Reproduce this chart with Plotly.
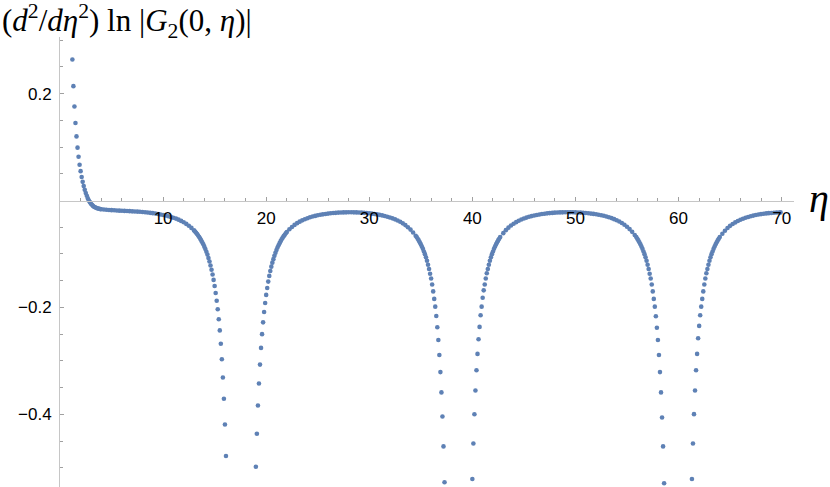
import plotly.graph_objects as go

# ---- data (eta, value) ----
eta1 = [1.2, 1.3, 1.4, 1.5, 1.6, 1.7, 1.8, 1.9, 2.0, 2.1, 2.2, 2.3, 2.4, 2.5, 2.6, 2.7, 2.8, 2.9, 3.0,
        3.1, 3.2, 3.3, 3.4, 3.5, 3.6, 3.7, 3.8, 3.9, 4.0]
val1 = [0.264, 0.214, 0.176, 0.145, 0.120, 0.099, 0.082, 0.067, 0.055, 0.044, 0.035, 0.027, 0.020,
        0.014, 0.009, 0.004, 0.000, -0.003, -0.006, -0.008, -0.010, -0.0115, -0.0125, -0.0135,
        -0.0143, -0.0150, -0.0155, -0.0160, -0.0164]

eta2 = [4.25, 4.5, 4.75, 5.0, 5.25, 5.5, 5.75, 6.0, 6.25, 6.5, 6.75, 7.0, 7.25, 7.5, 7.75, 8.0, 8.25,
        8.5, 8.75, 9.0, 9.25, 9.5, 9.75, 10.0, 10.25, 10.5, 10.75, 11.0, 11.25, 11.5, 11.75, 12.0,
        12.25, 12.5, 12.75]
val2 = [-0.0168, -0.0172, -0.0176, -0.0180, -0.0183, -0.0186, -0.0189, -0.0192, -0.0194, -0.0197,
        -0.0199, -0.0202, -0.0204, -0.0207, -0.0210, -0.0215, -0.0219, -0.0224, -0.0230, -0.0236,
        -0.0243, -0.0251, -0.0260, -0.0270, -0.0281, -0.0293, -0.0306, -0.0321, -0.0338, -0.0358,
        -0.0381, -0.0407, -0.0437, -0.0471, -0.0512]

eta3 = [13.0, 13.1, 13.2, 13.3, 13.4, 13.5, 13.6, 13.7, 13.8, 13.9, 14.0, 14.1, 14.2, 14.3, 14.4,
        14.5, 14.6, 14.7, 14.8, 14.9, 15.0, 15.1, 15.2, 15.3, 15.4, 15.5, 15.6, 15.7, 15.8, 15.9,
        16.0, 16.1]
val3 = [-0.0559, -0.0581, -0.0603, -0.0628, -0.0654, -0.0683, -0.0713, -0.0746, -0.0782, -0.0820,
        -0.0863, -0.0907, -0.0958, -0.1012, -0.1075, -0.1142, -0.1215, -0.1295, -0.1385, -0.1485,
        -0.160, -0.173, -0.1875, -0.2035, -0.222, -0.243, -0.268, -0.297, -0.331, -0.371, -0.419,
        -0.478]

eta4 = [19.0, 19.1, 19.2, 19.3, 19.4, 19.5, 19.6, 19.7, 19.8, 19.9, 20.0, 20.1, 20.2, 20.3, 20.4,
        20.5, 20.6, 20.7, 20.8, 20.9, 21.0, 21.1, 21.2, 21.3, 21.4, 21.5, 21.6, 21.7, 21.8, 21.9,
        22.0]
val4 = [-0.498, -0.4364, -0.3835, -0.3424, -0.307, -0.2757, -0.250, -0.2279, -0.2085, -0.1916,
        -0.1766, -0.1636, -0.1517, -0.141, -0.1318, -0.1237, -0.1162, -0.1097, -0.1035, -0.0979,
        -0.0927, -0.0880, -0.0836, -0.0797, -0.0760, -0.0726, -0.0694, -0.0666, -0.0639, -0.0614,
        -0.0591]

eta5 = [22.25, 22.5, 22.75, 23.0, 23.25, 23.5, 23.75, 24.0, 24.25, 24.5, 24.75, 25.0, 25.25, 25.5,
        25.75, 26.0, 26.25, 26.5, 26.75, 27.0, 27.25, 27.5, 27.75, 28.0]
val5 = [-0.0538, -0.0494, -0.0456, -0.0423, -0.0395, -0.0371, -0.0349, -0.0331, -0.0314, -0.0300,
        -0.0287, -0.0276, -0.0267, -0.0258, -0.0251, -0.0244, -0.0238, -0.0234, -0.0230, -0.0226,
        -0.0224, -0.0222, -0.0221, -0.0220]

eta6 = [28.25, 28.5, 28.75, 29.0, 29.25, 29.5, 29.75, 30.0, 30.25, 30.5, 30.75, 31.0, 31.25, 31.5,
        31.75, 32.0, 32.25, 32.5, 32.75, 33.0, 33.25, 33.5, 33.75, 34.0, 34.25, 34.5]
val6 = [-0.0220, -0.0221, -0.0222, -0.0224, -0.0227, -0.0230, -0.0234, -0.0239, -0.0245, -0.0251,
        -0.0259, -0.0268, -0.0278, -0.0289, -0.0302, -0.0316, -0.0333, -0.0352, -0.0373, -0.0398,
        -0.0427, -0.0460, -0.0499, -0.0544, -0.0597, -0.0660]

eta7 = [34.6, 34.7, 34.8, 34.9, 35.0, 35.1, 35.2, 35.3, 35.4, 35.5, 35.6, 35.7, 35.8, 35.9, 36.0,
        36.1, 36.2, 36.3, 36.4, 36.5, 36.6, 36.7, 36.8, 36.9, 37.0, 37.1, 37.2, 37.3]
val7 = [-0.0684, -0.0714, -0.0746, -0.0781, -0.0818, -0.0859, -0.0904, -0.0954, -0.1003, -0.1063,
        -0.1128, -0.1201, -0.128, -0.137, -0.146, -0.157, -0.170, -0.184, -0.1985, -0.216, -0.237,
        -0.261, -0.289, -0.321, -0.359, -0.404, -0.460, -0.527]

eta8 = [40.0, 40.1, 40.2, 40.3, 40.4, 40.5, 40.6, 40.7, 40.8, 40.9, 41.0, 41.1, 41.2, 41.3, 41.4,
        41.5, 41.6, 41.7, 41.8, 41.9, 42.0, 42.1, 42.2, 42.3, 42.4, 42.5, 42.6, 42.7]
val8 = [-0.521, -0.4545, -0.400, -0.3555, -0.3175, -0.287, -0.2595, -0.2364, -0.2146, -0.1985,
        -0.182, -0.168, -0.157, -0.146, -0.136, -0.128, -0.1201, -0.1128, -0.1063, -0.1003, -0.0954,
        -0.0904, -0.0859, -0.0818, -0.0781, -0.0746, -0.0714, -0.0684]

eta9 = [43.0, 43.25, 43.5, 43.75, 44.0, 44.25, 44.5, 44.75, 45.0, 45.25, 45.5, 45.75, 46.0, 46.25,
        46.5, 46.75, 47.0, 47.25, 47.5, 47.75, 48.0, 48.25, 48.5, 48.75, 49.0, 49.25, 49.5, 49.75,
        50.0, 50.25, 50.5, 50.75, 51.0, 51.25, 51.5, 51.75, 52.0, 52.25, 52.5, 52.75, 53.0, 53.25,
        53.5, 53.75, 54.0, 54.25, 54.5, 54.75, 55.0, 55.25, 55.5, 55.75]
val9 = [-0.0610, -0.0554, -0.0507, -0.0467, -0.0433, -0.0404, -0.0378, -0.0356, -0.0337, -0.0319,
        -0.0304, -0.0291, -0.0280, -0.0270, -0.0261, -0.0253, -0.0246, -0.0240, -0.0235, -0.0231,
        -0.0227, -0.0225, -0.0222, -0.0221, -0.0220, -0.0220, -0.0220, -0.0220, -0.0222, -0.0224,
        -0.0226, -0.0229, -0.0233, -0.0238, -0.0244, -0.0250, -0.0257, -0.0266, -0.0275, -0.0286,
        -0.0299, -0.0313, -0.0329, -0.0348, -0.0369, -0.0393, -0.0421, -0.0453, -0.0490, -0.0534,
        -0.0586, -0.0647]

eta10 = [55.9, 56.0, 56.1, 56.2, 56.3, 56.4, 56.5, 56.6, 56.7, 56.8, 56.9, 57.0, 57.1, 57.2, 57.3,
         57.4, 57.5, 57.6, 57.7, 57.8, 57.9, 58.0, 58.1, 58.2, 58.3, 58.4, 58.5, 58.6]
val10 = [-0.0684, -0.0714, -0.0746, -0.0781, -0.0818, -0.0859, -0.0904, -0.0954, -0.1003, -0.1063,
         -0.1128, -0.1201, -0.128, -0.137, -0.146, -0.157, -0.170, -0.184, -0.1985, -0.2165, -0.238,
         -0.261, -0.289, -0.321, -0.359, -0.406, -0.460, -0.529]

eta11 = [61.3, 61.4, 61.5, 61.6, 61.7, 61.8, 61.9, 62.0, 62.1, 62.2, 62.3, 62.4, 62.5, 62.6, 62.7,
         62.8, 62.9, 63.0, 63.1, 63.2, 63.3, 63.4, 63.5, 63.6, 63.7, 63.8, 63.9, 64.0]
val11 = [-0.521, -0.4545, -0.3997, -0.3555, -0.3175, -0.287, -0.2576, -0.2346, -0.2146, -0.1985,
         -0.184, -0.170, -0.157, -0.146, -0.136, -0.128, -0.1201, -0.1128, -0.1063, -0.1003, -0.0954,
         -0.0904, -0.0859, -0.0818, -0.0781, -0.0746, -0.0714, -0.0684]

eta12 = [64.25, 64.5, 64.75, 65.0, 65.25, 65.5, 65.75, 66.0, 66.25, 66.5, 66.75, 67.0, 67.25, 67.5,
         67.75, 68.0, 68.25, 68.5, 68.75, 69.0, 69.25, 69.5, 69.75, 69.9]
val12 = [-0.0621, -0.0564, -0.0515, -0.0474, -0.0439, -0.0409, -0.0382, -0.0360, -0.0340, -0.0322,
         -0.0307, -0.0293, -0.0282, -0.0271, -0.0262, -0.0254, -0.0247, -0.0241, -0.0236, -0.0232,
         -0.0228, -0.0225, -0.0223, -0.0222]

x_major = [10, 20, 30, 40, 50, 60, 70]
x_major_text = ["10", "20", "30", "40", "50", "60", "70"]
y_major = [-0.4, -0.2, 0.2]
y_major_text = ["\u22120.4", "\u22120.2", "0.2"]

eta = eta1 + eta2 + eta3 + eta4 + eta5 + eta6 + eta7 + eta8 + eta9 + eta10 + eta11 + eta12
vals = val1 + val2 + val3 + val4 + val5 + val6 + val7 + val8 + val9 + val10 + val11 + val12

X_RANGE = [0, 71.2]
Y_RANGE = [-0.536, 0.306]
x_minor = [v for v in range(2, 72, 2) if v % 10 != 0]
y_minor = [round(-0.5 + 0.05 * i, 2) for i in range(17)]
y_minor = [v for v in y_minor if v not in (-0.4, -0.2, 0.0, 0.2)]

AX = "#C6C6C6"
TK = "#A0A0A0"
DOT = "#5E81B5"

fig = go.Figure()
fig.add_trace(go.Scatter(
    x=eta, y=vals, mode="markers",
    marker=dict(size=4.6, color=DOT, line=dict(width=0)),
    hoverinfo="skip", cliponaxis=True,
))

xpos = (0 - Y_RANGE[0]) / (Y_RANGE[1] - Y_RANGE[0])

fig.update_layout(
    width=830, height=487,
    margin=dict(l=60, r=36, t=37, b=0, autoexpand=False),
    paper_bgcolor="white", plot_bgcolor="white",
    showlegend=False,
    xaxis=dict(
        range=X_RANGE, anchor="free", position=xpos, automargin=False,
        showline=True, linecolor=AX, linewidth=1,
        showgrid=False, zeroline=False,
        tickmode="array", tickvals=x_major, ticktext=x_major_text,
        ticks="inside", ticklen=4, tickwidth=1, tickcolor=TK,
        ticklabelstandoff=2,
        tickfont=dict(family="Liberation Sans, Arial, sans-serif", size=17, color="black"),
        minor=dict(tickvals=x_minor, ticks="inside", ticklen=2.5, tickwidth=1,
                   tickcolor=TK, showgrid=False),
    ),
    yaxis=dict(
        range=Y_RANGE, automargin=False,
        showline=True, linecolor=AX, linewidth=1,
        showgrid=False, zeroline=False,
        tickmode="array", tickvals=y_major, ticktext=y_major_text,
        ticks="inside", ticklen=4, tickwidth=1, tickcolor=TK,
        ticklabelstandoff=4,
        tickfont=dict(family="Liberation Sans, Arial, sans-serif", size=17, color="black"),
        minor=dict(tickvals=y_minor, ticks="inside", ticklen=2.5, tickwidth=1,
                   tickcolor=TK, showgrid=False),
    ),
    annotations=[
        dict(text="(<i>d</i><sup>2</sup>/<i>d\u03b7</i><sup>2</sup>) ln |<i>G</i><sub>2</sub>(0, <i>\u03b7</i>)|",
             xref="paper", yref="paper", x=0, y=1, xanchor="left", yanchor="middle",
             xshift=-60, yshift=16, showarrow=False,
             font=dict(family="Liberation Serif, Times New Roman, serif", size=31, color="black")),
        dict(text="<i>\u03b7</i>", xref="paper", yref="y", x=1, y=0,
             xanchor="left", yanchor="middle", xshift=13, yshift=2, showarrow=False,
             font=dict(family="Liberation Serif, Times New Roman, serif", size=40, color="black")),
    ],
)

fig.write_html("out.html", config={"displayModeBar": False},
               post_script="document.body.style.margin='0px';")
